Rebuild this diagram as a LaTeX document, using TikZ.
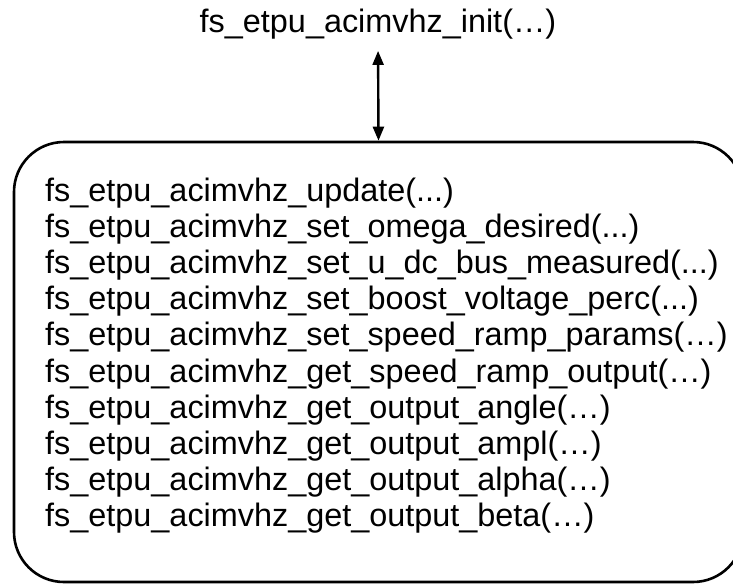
\documentclass[tikz,border=0pt]{standalone}
\usepackage{fontspec}
\setmainfont{Liberation Sans}
\usetikzlibrary{arrows.meta}
\begin{document}
\begin{tikzpicture}[x=1pt,y=-1pt,
  txt/.style={font=\fontsize{32.4}{36}\selectfont, inner sep=0pt, anchor=base west},
  conn/.style={line width=2.4pt, {Triangle[length=14pt,width=11pt]}-{Triangle[length=14pt,width=11pt]}}]
\useasboundingbox (0,0) rectangle (733,584);
\node[draw, line width=2.6pt, rounded corners=50pt, minimum width=729pt, minimum height=440pt, inner sep=0pt] (box) at (378.5,362) {};
\node[font=\fontsize{32.4}{36}\selectfont, inner sep=0pt, anchor=base] (init) at (378,32) {fs\_etpu\_acimvhz\_init(…)};
\draw[conn, shorten <=12pt] (init.south) -- (box.north);
\node[txt] (l1) at (45,201) {fs\_etpu\_acimvhz\_update(...)};
\node[txt] (l2) at (45,237.2) {fs\_etpu\_acimvhz\_set\_omega\_desired(...)};
\node[txt] (l3) at (45,273.4) {fs\_etpu\_acimvhz\_set\_u\_dc\_bus\_measured(...)};
\node[txt] (l4) at (45,309.6) {fs\_etpu\_acimvhz\_set\_boost\_voltage\_perc(...)};
\node[txt] (l5) at (45,345.8) {fs\_etpu\_acimvhz\_set\_speed\_ramp\_params(…)};
\node[txt] (l6) at (45,382) {fs\_etpu\_acimvhz\_get\_speed\_ramp\_output(…)};
\node[txt] (l7) at (45,418.2) {fs\_etpu\_acimvhz\_get\_output\_angle(…)};
\node[txt] (l8) at (45,454.4) {fs\_etpu\_acimvhz\_get\_output\_ampl(…)};
\node[txt] (l9) at (45,490.6) {fs\_etpu\_acimvhz\_get\_output\_alpha(…)};
\node[txt] (l10) at (45,526.8) {fs\_etpu\_acimvhz\_get\_output\_beta(…)};
\end{tikzpicture}
\end{document}
